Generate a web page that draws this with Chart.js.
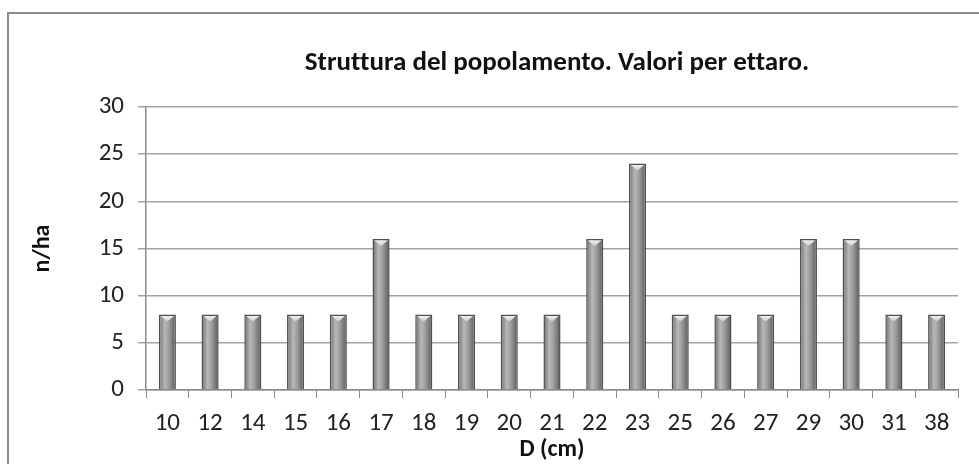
<!DOCTYPE html>
<html>
<head>
<meta charset="utf-8">
<script src="https://cdn.jsdelivr.net/npm/chart.js@4"></script>
<style>
  html, body { margin: 0; padding: 0; background: #fff; overflow: hidden; }
  #wrap { position: relative; width: 979px; height: 464px; }
  #frame { position: absolute; left: 7px; top: 12px; width: 1000px; height: 500px;
           border: 2px solid #8c8c8c; box-sizing: border-box; }
  #chartBox { position: absolute; left: 0; top: 0; width: 979px; height: 464px; }
</style>
</head>
<body>
<div id="wrap">
  <div id="frame"></div>
  <div id="chartBox"><canvas id="chart"></canvas></div>
</div>
<script>
const categories = ["10", "12", "14", "15", "16", "17", "18", "19", "20", "21", "22", "23", "25", "26", "27", "29", "30", "31", "38"];
const nPerHa = [8, 8, 8, 8, 8, 16, 8, 8, 8, 8, 16, 24, 8, 8, 8, 16, 16, 8, 8];
const yTicks = [0, 5, 10, 15, 20, 25, 30];

const chartTitle = "Struttura del popolamento. Valori per ettaro.";
const FONT = "Carlito, Lato, sans-serif";
const BAR_PCT = 0.4;

// horizontal cylinder-like shading for each bar
function barGradient(c) {
  const chart = c.chart;
  const xs = chart.scales.x;
  if (!xs || !xs.width) return "#999";
  const cx = xs.getPixelForValue(c.dataIndex);
  const w = xs.width / categories.length * BAR_PCT;
  const g = chart.ctx.createLinearGradient(cx - w / 2, 0, cx + w / 2, 0);
  g.addColorStop(0, "#6e6e6e");
  g.addColorStop(0.35, "#b8b8b8");
  g.addColorStop(0.6, "#9c9c9c");
  g.addColorStop(1, "#585858");
  return g;
}

// light triangle on top of each bar (the cylinder cap)
const capPlugin = {
  id: "caps",
  afterDatasetsDraw(chart) {
    const ctx = chart.ctx;
    chart.getDatasetMeta(0).data.forEach(bar => {
      const half = bar.width / 2;
      ctx.save();
      const g = ctx.createLinearGradient(0, bar.y, 0, bar.y + 7);
      g.addColorStop(0, "#fafafa");
      g.addColorStop(1, "#cccccc");
      ctx.fillStyle = g;
      ctx.beginPath();
      ctx.moveTo(bar.x - half + 2, bar.y + 1.5);
      ctx.lineTo(bar.x + half - 2, bar.y + 1.5);
      ctx.lineTo(bar.x, bar.y + 7);
      ctx.closePath();
      ctx.fill();
      ctx.restore();
    });
  }
};

// title centred over the plot area
const titlePlugin = {
  id: "plotTitle",
  afterDraw(chart) {
    const ctx = chart.ctx;
    const area = chart.chartArea;
    ctx.save();
    ctx.font = "bold 27px " + FONT;
    ctx.letterSpacing = "0.01px"; // no "tt" ligature
    ctx.fillStyle = "#111";
    ctx.textAlign = "center";
    ctx.textBaseline = "alphabetic";
    ctx.fillText(chartTitle, (area.left + area.right) / 2 + 5, 70);
    ctx.restore();
  }
};

new Chart(document.getElementById("chart"), {
  type: "bar",
  data: {
    labels: categories,
    datasets: [{
      label: "n/ha",
      data: nPerHa,
      backgroundColor: barGradient,
      borderColor: "#505050",
      borderWidth: 1.5,
      borderSkipped: "bottom",
      barPercentage: BAR_PCT,
      categoryPercentage: 1
    }]
  },
  options: {
    responsive: true,
    maintainAspectRatio: false,
    animation: false,
    layout: { padding: { left: 20, right: 21, top: 107, bottom: 0 } },
    plugins: {
      legend: { display: false },
      title: { display: false },
      tooltip: { enabled: false }
    },
    scales: {
      x: {
        afterFit(s) { s.height = 74; },
        grid: { drawOnChartArea: false, drawTicks: true, tickLength: 8, color: "#8a8a8a", lineWidth: 1 },
        border: { display: true, color: "#8a8a8a", width: 1.5 },
        ticks: { color: "#222", padding: 11, font: { family: FONT, size: 25 }, maxRotation: 0, autoSkip: false },
        title: { display: true, text: "D (cm)", color: "#111", padding: { top: 0, bottom: 0 },
                 font: { family: FONT, size: 24, weight: "bold" } }
      },
      y: {
        min: 0,
        max: 30,
        afterFit(s) { s.width = 126; },
        afterBuildTicks(s) { s.ticks = yTicks.map(v => ({ value: v })); },
        grid: { color: "#a3a3a3", lineWidth: 1.5, tickLength: 8, drawTicks: true },
        border: { display: true, color: "#8a8a8a", width: 1.5 },
        ticks: { color: "#222", padding: 14, font: { family: FONT, size: 25 } },
        title: { display: true, text: "n/ha", color: "#111", padding: { top: 9, bottom: 0 },
                 font: { family: FONT, size: 24, weight: "bold" } }
      }
    }
  },
  plugins: [capPlugin, titlePlugin]
});
</script>
</body>
</html>
